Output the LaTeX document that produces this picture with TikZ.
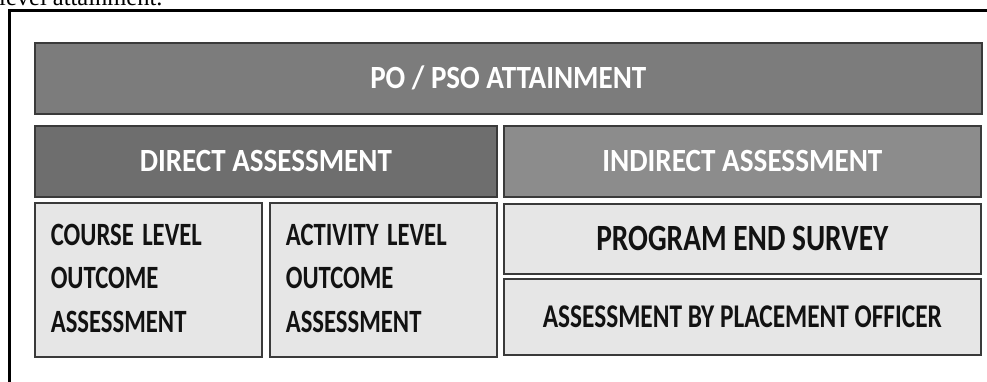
\documentclass[tikz,border=0pt]{standalone}
\usepackage{fontspec}
\usepackage{graphicx}
\setmainfont{Carlito}
\newfontfamily\serifface{Liberation Serif}
\newcommand\fitcaps[3]{\resizebox{#1pt}{#2pt}{\smash{\bfseries #3}\vphantom{\bfseries A}}}
\newcommand\stackcaps[2]{\scalebox{#1}[1]{\fontsize{32.5}{43.5}\selectfont\bfseries\spaceskip=0.34em\begin{tabular}{@{}l@{}}#2\end{tabular}}}
\definecolor{boxedge}{RGB}{58,58,58}
\definecolor{topgray}{RGB}{124,124,124}
\definecolor{directgray}{RGB}{110,110,110}
\definecolor{indirectgray}{RGB}{140,140,140}
\definecolor{lightgray}{RGB}{230,230,230}
\definecolor{darktext}{RGB}{18,18,18}
\tikzset{
  frameline/.style={draw=black, line width=3pt},
  boxbase/.style={draw=boxedge, line width=1.6pt, inner sep=0pt, anchor=north west},
  darkbox/.style={boxbase, fill=#1, text=white},
  lightbox/.style={boxbase, fill=lightgray, text=darktext},
  stackbox/.style={lightbox, inner xsep=16pt, text width=195pt, align=left},
}
\begin{document}
\begin{tikzpicture}[x=1pt,y=-1pt]
\useasboundingbox (0,0) rectangle (987,382);
\clip (0,0) rectangle (987,382);
\fill[white] (0,0) rectangle (987,382);
% cut caption at top
\node[anchor=base west, inner sep=0pt, font=\serifface\fontsize{24.5}{24.5}\selectfont] (caption) at (-1,6) {level attainment.};
% frame
\coordinate (fbottom) at (9.5,384);
\coordinate (fcorner) at (9.5,11);
\coordinate (fright) at (990,11);
\draw[frameline] (fbottom) -- (fcorner) -- (fright);
% boxes
\node[darkbox=topgray, minimum width=947pt, minimum height=71pt] (po) at (34,42) {\fitcaps{276}{21}{PO / PSO ATTAINMENT}};
\node[darkbox=directgray, minimum width=462pt, minimum height=71pt] (direct) at (34,125) {\fitcaps{252}{21}{DIRECT ASSESSMENT}};
\node[darkbox=indirectgray, minimum width=477pt, minimum height=71pt] (indirect) at (503,125) {\fitcaps{280}{21}{INDIRECT ASSESSMENT}};
\node[stackbox, minimum width=227pt, minimum height=154pt] (course) at (34,202) {\stackcaps{0.76}{COURSE LEVEL\\OUTCOME\\ASSESSMENT}};
\node[stackbox, minimum width=227pt, minimum height=154pt] (activity) at (269,202) {\stackcaps{0.76}{ACTIVITY LEVEL\\OUTCOME\\ASSESSMENT}};
\node[lightbox, minimum width=477pt, minimum height=70pt] (survey) at (503,203) {\fitcaps{292}{24}{PROGRAM END SURVEY}};
\node[lightbox, minimum width=477pt, minimum height=76pt] (placement) at (503,278) {\fitcaps{399}{21.5}{ASSESSMENT BY PLACEMENT OFFICER}};
\end{tikzpicture}
\end{document}
